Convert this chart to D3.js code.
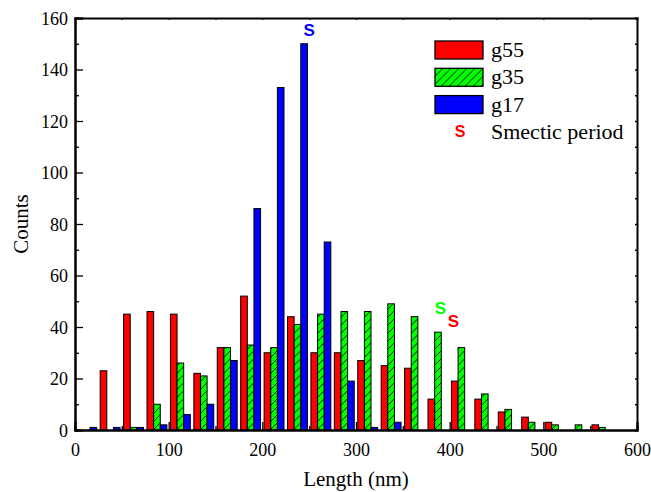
<!DOCTYPE html>
<html>
<head>
<meta charset="utf-8">
<script src="https://cdn.jsdelivr.net/npm/d3@7"></script>
<style>
  body { margin: 0; background: #fff; }
  svg { display: block; }
</style>
</head>
<body>
<div id="chart"></div>
<script>
// bin starts (nm), 25 nm wide bins
const binStarts = [0, 25, 50, 75, 100, 125, 150, 175, 200, 225, 250, 275, 300, 325, 350, 375, 400, 425, 450, 475, 500, 525, 550];
const g55 = [0, 23, 45, 46, 45, 22, 32, 52, 30, 44, 30, 30, 27, 25, 24, 12, 19, 12, 7, 5, 3, 0, 2];
const g35 = [0, 0, 1, 10, 26, 21, 32, 33, 32, 41, 45, 46, 46, 49, 44, 38, 32, 14, 8, 3, 2, 2, 1];
const g17 = [1, 1, 1, 2, 6, 10, 27, 86, 133, 150, 73, 19, 1, 3, 0, 0, 0, 0, 0, 0, 0, 0, 0];
const seriesNames = ['g55', 'g35', 'g17'];
const xTicks = [0, 100, 200, 300, 400, 500, 600];
const yTicks = [0, 20, 40, 60, 80, 100, 120, 140, 160];
// smectic period markers: [length nm, counts, series]
const smectic = [[250, 153, 'g17'], [390, 45, 'g35'], [404, 40, 'g55']];

const serif = '"Liberation Serif", "Times New Roman", serif';
const sans = '"Liberation Sans", Arial, sans-serif';

const width = 651, height = 492;
const margin = {top: 18, right: 14, bottom: 62, left: 75};
const innerWidth = width - margin.left - margin.right,
      innerHeight = height - margin.top - margin.bottom;
const binWidth = 25;

const data = binStarts.map((b, i) => ({bin: b, g55: g55[i], g35: g35[i], g17: g17[i]}));

const colors = d3.scaleOrdinal().domain(seriesNames).range(['#ff0000', '#00ff00', '#0000ff']);
const fills = {g55: '#ff0000', g35: 'url(#hatch)', g17: '#0000ff'};

const x = d3.scaleLinear().domain([0, 600]).range([0, innerWidth]);
const y = d3.scaleLinear().domain([0, 160]).range([innerHeight, 0]);

const groupW = (x(binWidth) - x(0)) * 0.85;
const x1 = d3.scaleBand().domain(seriesNames).range([-groupW / 2, groupW / 2]);

const svg = d3.select('#chart').append('svg')
  .attr('width', width).attr('height', height);

// hatch pattern for g35
const defs = svg.append('defs');
const pat = defs.append('pattern')
  .attr('id', 'hatch').attr('patternUnits', 'userSpaceOnUse')
  .attr('width', 8).attr('height', 8);
pat.append('rect').attr('width', 8).attr('height', 8).attr('fill', '#00ff00');
pat.append('path').attr('d', 'M-2,2 L2,-2 M0,8 L8,0 M6,10 L10,6')
  .attr('stroke', '#000').attr('stroke-width', 0.9);

const g = svg.append('g').attr('transform', `translate(${margin.left},${margin.top})`);

// bars
g.selectAll('g.bin')
  .data(data)
  .enter().append('g')
    .attr('class', 'bin')
    .attr('transform', d => `translate(${x(d.bin + binWidth / 2)},0)`)
  .selectAll('rect')
  .data(d => seriesNames.map(k => ({key: k, value: d[k]})).filter(d => d.value > 0))
  .enter().append('rect')
    .attr('x', d => x1(d.key))
    .attr('y', d => y(d.value))
    .attr('width', x1.bandwidth())
    .attr('height', d => innerHeight - y(d.value))
    .attr('fill', d => fills[d.key])
    .attr('stroke', '#000')
    .attr('stroke-width', 1);

// axes - ticks point inward like Origin
const xMinor = d3.range(50, 600, 100);
const yMinor = d3.range(10, 160, 20);

function minorAxis(axis, transform) {
  const a = g.append('g').attr('class', 'axis');
  if (transform) a.attr('transform', transform);
  a.call(axis);
  a.selectAll('text').remove();
  return a;
}

minorAxis(d3.axisBottom(x).tickValues(xMinor).tickSize(-4), `translate(0,${innerHeight})`);
minorAxis(d3.axisLeft(y).tickValues(yMinor).tickSize(-4));
minorAxis(d3.axisTop(x).tickValues(d3.range(0, 601, 50)).tickSize(-2));
minorAxis(d3.axisRight(y).tickValues(d3.range(0, 161, 10)).tickSize(-2), `translate(${innerWidth},0)`);

g.append('g').attr('class', 'axis x')
  .attr('transform', `translate(0,${innerHeight})`)
  .call(d3.axisBottom(x).tickValues(xTicks).tickSize(-8).tickPadding(13).tickFormat(d3.format('d')));
g.append('g').attr('class', 'axis y')
  .call(d3.axisLeft(y).tickValues(yTicks).tickSize(-8).tickPadding(7).tickFormat(d3.format('d')));

g.selectAll('.axis .domain').attr('stroke-width', 2).attr('stroke', '#000');
g.selectAll('.axis .tick line').attr('stroke', '#000').attr('stroke-width', 1.3);
g.selectAll('.axis .tick text')
  .attr('fill', '#000')
  .style('font-family', serif)
  .style('font-size', '18px');
g.selectAll('.axis.y text').attr('dy', '0.35em');

// axis titles
svg.append('text')
  .attr('x', margin.left + innerWidth / 2).attr('y', 486)
  .attr('text-anchor', 'middle')
  .style('font-family', serif).style('font-size', '21px')
  .text('Length (nm)');
svg.append('text')
  .attr('transform', `translate(28,${margin.top + innerHeight / 2}) rotate(-90)`)
  .attr('text-anchor', 'middle')
  .style('font-family', serif).style('font-size', '21px')
  .text('Counts');

// smectic period markers
g.selectAll('text.smectic')
  .data(smectic)
  .enter().append('text')
    .attr('class', 'smectic')
    .attr('x', d => x(d[0])).attr('y', d => y(d[1]))
    .attr('text-anchor', 'middle')
    .attr('fill', d => colors(d[2]))
    .style('font-family', sans)
    .style('font-weight', 'bold').style('font-size', '17px')
    .text('S');

// legend
const legend = svg.append('g').attr('transform', 'translate(435,41)');
seriesNames.forEach((k, i) => {
  const row = legend.append('g').attr('transform', `translate(0,${i * 27.3})`);
  row.append('rect').attr('width', 48).attr('height', 18)
    .attr('fill', fills[k]).attr('stroke', '#000').attr('stroke-width', 1.3);
  row.append('text').attr('x', 56).attr('y', 16)
    .style('font-family', serif).style('font-size', '22px')
    .text(k);
});
legend.append('text').attr('x', 25).attr('y', 96)
  .attr('text-anchor', 'middle').attr('fill', '#ff0000')
  .style('font-family', sans).style('font-weight', 'bold').style('font-size', '16px')
  .text('S');
legend.append('text').attr('x', 56).attr('y', 98)
  .style('font-family', serif).style('font-size', '22px')
  .text('Smectic period');
</script>
</body>
</html>
